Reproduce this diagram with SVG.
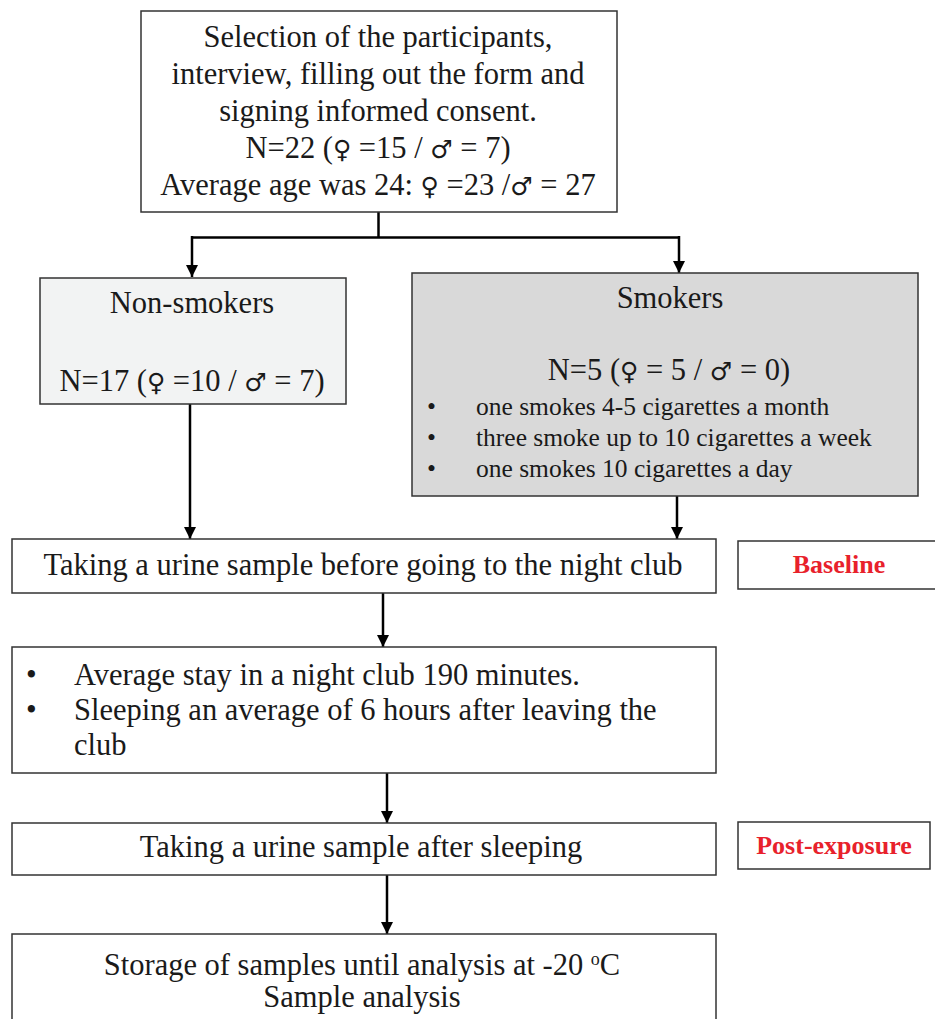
<svg xmlns="http://www.w3.org/2000/svg" width="935" height="1019" viewBox="0 0 935 1019">
<style>
.box{fill:#ffffff;stroke:#333333;stroke-width:1.5}
.t{font-family:"Liberation Serif","DejaVu Serif",serif;font-size:30.5px;fill:#1a1a1a}
.c{text-anchor:middle}
.s{font-size:25.5px}
.g{font-family:"DejaVu Sans",sans-serif;font-size:25px;font-weight:normal}
.lab{font-family:"Liberation Serif","DejaVu Serif",serif;font-size:26px;font-weight:bold;fill:#e8212b;text-anchor:middle}
.conn{stroke:#000000;stroke-width:2.5;fill:none}
</style>
<defs>
<marker id="ah" markerUnits="userSpaceOnUse" markerWidth="12" markerHeight="12" viewBox="0 0 12 12" refX="12" refY="6" orient="auto">
<path d="M0,0 L12,6 L0,12 z" fill="#000000"/>
</marker>
</defs>
<rect width="935" height="1019" fill="#ffffff"/>
<g id="connectors">
<path class="conn" d="M378.5,212 V237.5"/>
<path class="conn" d="M192,237.5 H679"/>
<path class="conn" d="M192,236 V277" marker-end="url(#ah)"/>
<path class="conn" d="M679,236 V273" marker-end="url(#ah)"/>
<path class="conn" d="M190,404 V539" marker-end="url(#ah)"/>
<path class="conn" d="M677,496 V539" marker-end="url(#ah)"/>
<path class="conn" d="M383,593 V647" marker-end="url(#ah)"/>
<path class="conn" d="M387,773 V823" marker-end="url(#ah)"/>
<path class="conn" d="M387,875 V934" marker-end="url(#ah)"/>
</g>
<g id="selection">
<rect class="box" x="141" y="11" width="476" height="201"/>
<text class="t c" x="378" y="47">Selection of the participants,</text>
<text class="t c" x="378" y="84">interview, filling out the form and</text>
<text class="t c" x="378" y="121">signing informed consent.</text>
<text class="t c" x="378" y="158">N=22 (<tspan class="g">♀</tspan> =15 / <tspan class="g">♂</tspan> = 7)</text>
<text class="t c" x="378" y="195">Average age was 24: <tspan class="g">♀</tspan> =23 /<tspan class="g">♂</tspan> = 27</text>
</g>
<g id="nonsmokers">
<rect class="box" x="40" y="278" width="306" height="126" style="fill:#f2f3f3"/>
<text class="t c" x="192" y="313">Non-smokers</text>
<text class="t c" x="192" y="391">N=17 (<tspan class="g">♀</tspan> =10 / <tspan class="g">♂</tspan> = 7)</text>
</g>
<g id="smokers">
<rect class="box" x="412" y="273" width="506" height="223" style="fill:#d9d9d9"/>
<text class="t c" x="670" y="308">Smokers</text>
<text class="t c" x="669" y="380">N=5 (<tspan class="g">♀</tspan> = 5 / <tspan class="g">♂</tspan> = 0)</text>
<text class="t s" x="427" y="415">•</text>
<text class="t s" x="476" y="415">one smokes 4-5 cigarettes a month</text>
<text class="t s" x="427" y="446">•</text>
<text class="t s" x="476" y="446">three smoke up to 10 cigarettes a week</text>
<text class="t s" x="427" y="477">•</text>
<text class="t s" x="476" y="477">one smokes 10 cigarettes a day</text>
</g>
<g id="urine-before">
<rect class="box" x="12" y="539" width="704" height="54"/>
<text class="t c" x="363" y="575">Taking a urine sample before going to the night club</text>
</g>
<g id="baseline">
<rect class="box" x="738" y="541" width="205" height="48"/>
<text class="lab" x="839" y="573">Baseline</text>
</g>
<g id="night-club">
<rect class="box" x="12" y="647" width="704" height="126"/>
<text class="t" x="26" y="685">•</text>
<text class="t" x="74" y="685">Average stay in a night club 190 minutes.</text>
<text class="t" x="26" y="720">•</text>
<text class="t" x="74" y="720">Sleeping an average of 6 hours after leaving the</text>
<text class="t" x="74" y="755">club</text>
</g>
<g id="urine-after">
<rect class="box" x="12" y="823" width="704" height="52"/>
<text class="t c" x="361" y="857">Taking a urine sample after sleeping</text>
</g>
<g id="post-exposure">
<rect class="box" x="738" y="822" width="192" height="47"/>
<text class="lab" x="834" y="854">Post-exposure</text>
</g>
<g id="storage">
<rect class="box" x="12" y="934" width="704" height="100"/>
<text class="t c" x="362" y="975">Storage of samples until analysis at -20 <tspan font-size="18" dy="-10">o</tspan><tspan dy="10">C</tspan></text>
<text class="t c" x="362" y="1007">Sample analysis</text>
</g>
</svg>
